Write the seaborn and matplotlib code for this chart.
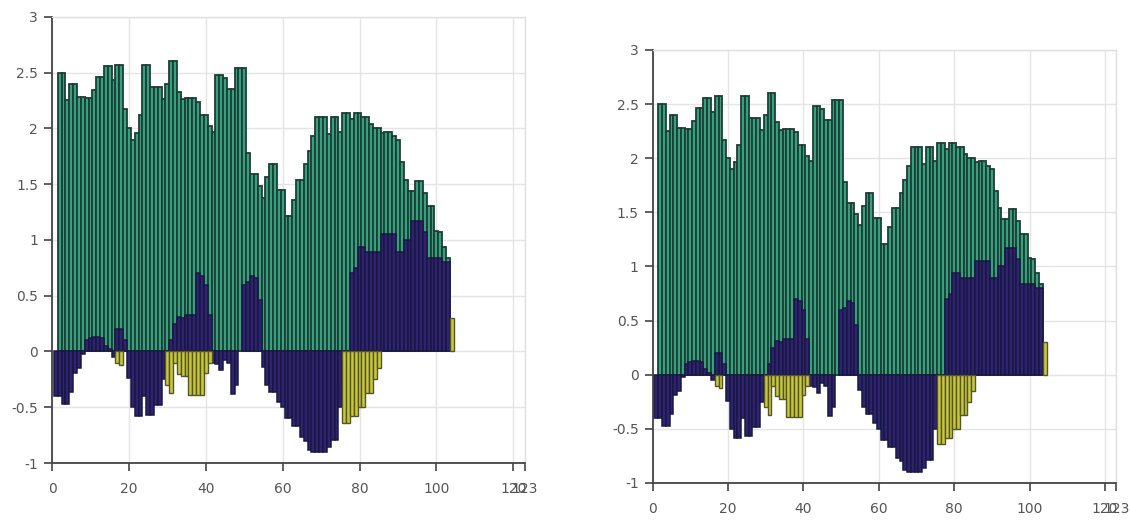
import numpy as np
import pandas as pd
import matplotlib
matplotlib.use("Agg")
import matplotlib.pyplot as plt
import seaborn as sns

# ---- data ----
x_pos = list(range(1, 105))

green_vals = [0.0, 2.5, 2.5, 2.25, 2.4, 2.4, 2.28, 2.28, 2.27, 2.27,
              2.34, 2.46, 2.46, 2.56, 2.56, 2.43, 2.57, 2.57, 2.17, 2.0,
              1.9, 1.96, 2.12, 2.57, 2.57, 2.37, 2.37, 2.37, 2.26, 2.4,
              2.6, 2.6, 2.33, 2.26, 2.27, 2.27, 2.27, 2.24, 2.12, 2.12,
              2.02, 1.97, 2.48, 2.48, 2.45, 2.35, 2.35, 2.54, 2.54, 2.54,
              1.78, 1.59, 1.59, 1.48, 1.38, 1.56, 1.68, 1.68, 1.45, 1.45,
              1.21, 1.21, 1.36, 1.54, 1.54, 1.68, 1.8, 1.93, 2.1, 2.1,
              2.1, 1.95, 2.1, 2.1, 1.97, 2.14, 2.14, 2.08, 2.14, 2.14,
              2.1, 2.1, 2.04, 2.0, 2.0, 1.96, 1.97, 1.97, 1.93, 1.9,
              1.7, 1.54, 1.44, 1.44, 1.53, 1.53, 1.42, 1.3, 1.3, 1.08,
              1.07, 0.94, 0.84, 0.0]

navy_vals = [-0.4, -0.4, -0.47, -0.47, -0.36, -0.19, -0.15, -0.02, 0.1, 0.12,
             0.13, 0.13, 0.12, 0.05, 0.02, -0.05, 0.2, 0.2, 0.1, -0.24,
             -0.5, -0.58, -0.58, -0.4, -0.57, -0.57, -0.48, -0.48, -0.25, -0.15,
             0.1, 0.25, 0.31, 0.3, 0.33, 0.33, 0.33, 0.7, 0.68, 0.6,
             0.33, -0.1, -0.11, -0.17, -0.08, -0.1, -0.38, -0.3, 0.0, 0.6,
             0.62, 0.68, 0.66, 0.46, -0.14, -0.3, -0.36, -0.36, -0.45, -0.5,
             -0.6, -0.6, -0.67, -0.67, -0.77, -0.8, -0.88, -0.9, -0.9, -0.9,
             -0.9, -0.86, -0.79, -0.79, -0.5, -0.3, -0.1, 0.7, 0.75, 0.94,
             0.94, 0.89, 0.89, 0.89, 0.89, 1.05, 1.05, 1.05, 1.05, 0.89,
             0.89, 1.0, 1.0, 1.17, 1.17, 1.17, 1.07, 0.84, 0.84, 0.84,
             0.84, 0.8, 0.8, 0.0]

yellow_x = [17, 18, 30, 31, 32, 33, 34, 35, 36, 37, 38, 39, 40, 41,
            76, 77, 78, 79, 80, 81, 82, 83, 84, 85, 104]
yellow_vals = [-0.1, -0.12, -0.3, -0.37, -0.1, -0.2, -0.22, -0.22, -0.39, -0.39,
               -0.39, -0.39, -0.19, -0.1,
               -0.64, -0.64, -0.58, -0.58, -0.5, -0.5, -0.37, -0.37, -0.25, -0.15,
               0.3]

x_ticks = [0, 20, 40, 60, 80, 100, 120, 123]
x_tick_labels = ["0", "20", "40", "60", "80", "100", "120", "123"]
y_ticks = [-1, -0.5, 0, 0.5, 1, 1.5, 2, 2.5, 3]
y_tick_labels = ["-1", "-0.5", "0", "0.5", "1", "1.5", "2", "2.5", "3"]

GREEN = "#35a27f"
NAVY = "#2e2370"
YELLOW = "#c8c83a"
EDGE = "#1f3d34"

sns.set_theme(style="white")
plt.rcParams["font.family"] = ["DejaVu Sans"]

fig = plt.figure(figsize=(11.31, 5.25), dpi=100)
ax1 = fig.add_axes([0.046, 0.118, 0.418, 0.85])
ax2 = fig.add_axes([0.577, 0.080, 0.410, 0.825])

df_g = pd.DataFrame({"x": x_pos, "y": green_vals})
df_g = df_g[df_g["y"] != 0]
df_n = pd.DataFrame({"x": x_pos, "y": navy_vals})
df_n = df_n[df_n["y"] != 0]
df_y = pd.DataFrame({"x": yellow_x, "y": yellow_vals})

for ax in (ax1, ax2):
    ax.set_axisbelow(True)
    ax.grid(True, color="#e4e4e4", linewidth=1.0)
    sns.barplot(data=df_g, x="x", y="y", native_scale=True, width=1.0,
                color=GREEN, saturation=1, edgecolor=EDGE, linewidth=1.3,
                errorbar=None, ax=ax)
    sns.barplot(data=df_n, x="x", y="y", native_scale=True, width=1.0,
                color=NAVY, saturation=1, edgecolor="#1a1840", linewidth=1.1,
                errorbar=None, ax=ax)
    sns.barplot(data=df_y, x="x", y="y", native_scale=True, width=1.0,
                color=YELLOW, saturation=1, edgecolor="#55552a", linewidth=1.0,
                errorbar=None, ax=ax)
    ax.set_xlim(0, 123)
    ax.set_ylim(-1, 3)
    ax.set_xticks(x_ticks)
    ax.set_xticklabels(x_tick_labels)
    ax.set_yticks(y_ticks)
    ax.set_yticklabels(y_tick_labels)
    ax.set_xlabel("")
    ax.set_ylabel("")
    ax.tick_params(axis="both", direction="out", length=6, width=1.2,
                   color="#444444", labelsize=10, labelcolor="#555555",
                   left=True, bottom=True, pad=4)
    ax.tick_params(axis="x", pad=8)
    for side in ("left", "bottom"):
        ax.spines[side].set_color("#444444")
        ax.spines[side].set_linewidth(1.3)
    for side in ("top", "right"):
        ax.spines[side].set_color("#e0e0e0")
        ax.spines[side].set_linewidth(1.0)

fig.savefig("out.png", dpi=100)
